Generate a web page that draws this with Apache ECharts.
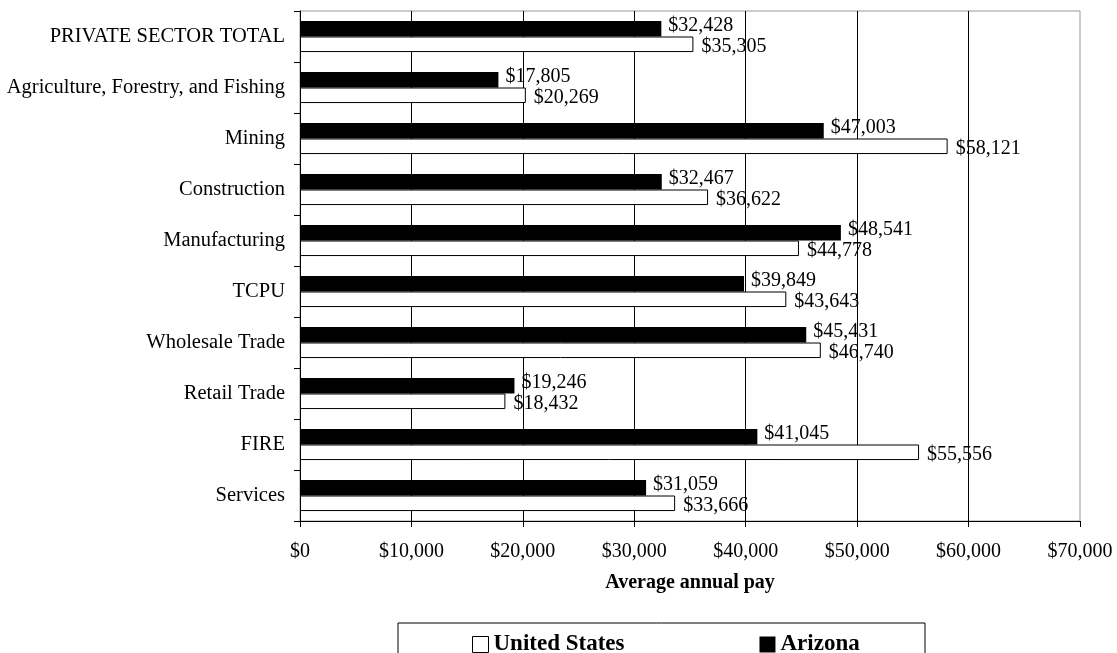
<!DOCTYPE html>
<html>
<head>
<meta charset="utf-8">
<script src="https://cdn.jsdelivr.net/npm/echarts@6/dist/echarts.min.js"></script>
<style>
  html, body { margin: 0; padding: 0; background: #fff; }
  #main { width: 1117px; height: 653px; }
</style>
</head>
<body>
<div id="main"></div>
<script>
// industries, top to bottom
var categories = ['PRIVATE SECTOR TOTAL', 'Agriculture, Forestry, and Fishing', 'Mining', 'Construction',
  'Manufacturing', 'TCPU', 'Wholesale Trade', 'Retail Trade', 'FIRE', 'Services'];
var arizona = [32428, 17805, 47003, 32467, 48541, 39849, 45431, 19246, 41045, 31059];
var unitedStates = [35305, 20269, 58121, 36622, 44778, 43643, 46740, 18432, 55556, 33666];
var xMin = 0, xMax = 70000, xStep = 10000;

function money(v) {
  return '$' + Number(v).toLocaleString('en-US');
}

var serif = '"Liberation Serif", "Times New Roman", serif';

var chart = echarts.init(document.getElementById('main'));

var option = {
  animation: false,
  textStyle: { fontFamily: serif, color: '#000' },
  grid: { left: 300, right: 37, top: 11, bottom: 132, show: true, borderColor: '#999', borderWidth: 1 },
  legend: {
    data: [
      { name: 'United States', itemStyle: { color: '#fff', borderColor: '#000', borderWidth: 1 } },
      { name: 'Arizona', itemStyle: { color: '#000' } }
    ],
    left: 467, top: 628,
    itemWidth: 16, itemHeight: 16, itemGap: 135,
    icon: 'rect',
    textStyle: { fontFamily: serif, fontSize: 23, fontWeight: 'bold', color: '#000' }
  },
  graphic: [{
    type: 'rect',
    shape: { x: 398, y: 623, width: 527, height: 40 },
    style: { fill: 'none', stroke: '#000', lineWidth: 1 },
    silent: true
  }],
  xAxis: {
    type: 'value',
    min: xMin, max: xMax, interval: xStep,
    name: 'Average annual pay',
    nameLocation: 'middle', nameGap: 52,
    nameTextStyle: { fontFamily: serif, fontSize: 20, fontWeight: 'bold', color: '#000' },
    axisLine: { show: true, lineStyle: { color: '#000', width: 1 } },
    axisTick: { show: true, length: 6, lineStyle: { color: '#000' } },
    axisLabel: { formatter: money, fontSize: 20, color: '#000', margin: 21 },
    splitLine: { show: true, showMaxLine: false, lineStyle: { color: '#000', width: 1 } }
  },
  yAxis: {
    type: 'category',
    data: categories,
    inverse: true,
    axisLine: { show: true, lineStyle: { color: '#000', width: 1 } },
    axisTick: { show: true, length: 6, lineStyle: { color: '#000' } },
    axisLabel: { fontSize: 20.5, color: '#000', margin: 15 }
  },
  series: [
    {
      name: 'Arizona',
      type: 'bar',
      data: arizona,
      barGap: '0%',
      barCategoryGap: '39%',
      itemStyle: { color: '#000' },
      label: { show: true, position: 'right', distance: 7, offset: [0, -3], formatter: function (p) { return money(p.value); }, fontSize: 20, color: '#000', fontFamily: serif }
    },
    {
      name: 'United States',
      type: 'bar',
      data: unitedStates,
      barGap: '0%',
      barCategoryGap: '39%',
      itemStyle: { color: '#fff', borderColor: '#000', borderWidth: 1 },
      label: { show: true, position: 'right', distance: 8, offset: [0, 2], formatter: function (p) { return money(p.value); }, fontSize: 20, color: '#000', fontFamily: serif }
    }
  ]
};

chart.setOption(option);
</script>
</body>
</html>
